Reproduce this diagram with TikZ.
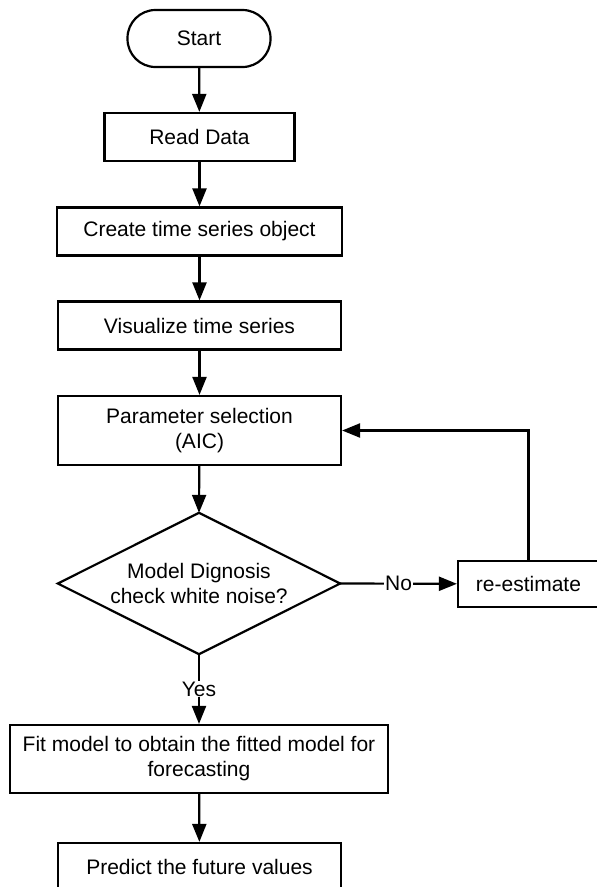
\documentclass[tikz,border=0pt]{standalone}
\usepackage{fontspec}
\setmainfont{Liberation Sans}
\usetikzlibrary{arrows.meta}
\begin{document}
\begin{tikzpicture}[x=1pt,y=-1pt,
  every node/.style={font=\fontsize{21}{25}\selectfont, inner sep=0pt, align=center},
  box/.style={draw, line width=2.2pt, minimum height=#1},
  box/.default=48pt,
  arr/.style={line width=2.2pt, -{Triangle[length=18pt 0,width=14pt 0]}},
  lbl/.style={fill=white, inner sep=1pt}]
\clip (0,0) rectangle (597,887);
\node[draw, line width=2.2pt, rounded corners=28pt, minimum width=143pt, minimum height=57pt] (start) at (199,38.5) {Start};
\node[box, minimum width=190pt] (read) at (199.5,137) {Read Data};
\node[box, minimum width=285pt] (create) at (199.5,231.5) {Create time series object};
\node[box, minimum width=283pt] (vis) at (199.5,325.5) {Visualize time series};
\node[box=69pt, minimum width=283pt] (param) at (199.5,430.5) {Parameter selection\\(AIC)};
\node[minimum width=282pt, minimum height=141pt] (dia) at (199,583.5) {Model Dignosis\\check white noise?};
\draw[line width=2.2pt, line join=miter] (dia.north) -- (dia.east) -- (dia.south) -- (dia.west) -- cycle;
\node[box=46pt, minimum width=141pt] (re) at (528.5,584) {re-estimate};
\node[box=68pt, minimum width=378pt] (fit) at (199,759) {Fit model to obtain the fitted model for\\forecasting};
\node[box=48pt, minimum width=283pt] (pred) at (199.5,867) {Predict the future values};
\draw[arr] (start) -- (read);
\draw[arr] (read) -- (create);
\draw[arr] (create) -- (vis);
\draw[arr] (vis) -- (param);
\draw[arr] (param) -- (dia.north);
\draw[arr] (dia.south) -- node[lbl] {Yes} (fit);
\draw[arr] (dia.east) -- node[lbl] {No} (re);
\draw[arr] (re.north) |- (param.east);
\draw[arr] (fit) -- (pred);
\end{tikzpicture}
\end{document}
